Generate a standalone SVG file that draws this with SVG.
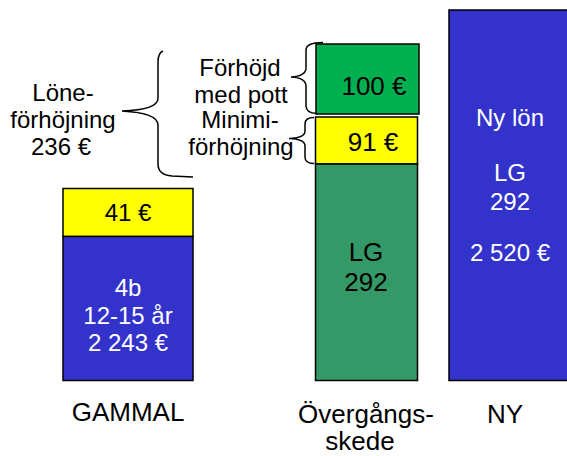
<svg xmlns="http://www.w3.org/2000/svg" width="567" height="456" viewBox="0 0 567 456">
  <style>
    .bar { stroke: #000; stroke-width: 1.5; }
    .blue { fill: #3333CC; }
    .yellow { fill: #FFFF00; }
    .green { fill: #00B050; }
    .sea { fill: #339966; }
    text { font-family: "Liberation Sans", Arial, sans-serif; text-anchor: middle; }
    .dark { fill: #000; }
    .light { fill: #fff; }
    .s24 { font-size: 24px; }
    .s26 { font-size: 26px; }
    .brace { fill: none; stroke: #000; stroke-width: 1.5; }
  </style>

  <rect width="567" height="456" fill="#fff"/>

  <!-- GAMMAL column -->
  <g id="gammal-raise">
    <rect class="bar yellow" x="63" y="188.5" width="130" height="48"/>
    <text class="dark s24" x="128" y="221">41 €</text>
  </g>
  <g id="gammal-base">
    <rect class="bar blue" x="63" y="236.5" width="130" height="144"/>
    <text class="light s24" x="128" y="296">4b</text>
    <text class="light s24" x="128" y="324">12-15 år</text>
    <text class="light s24" x="128" y="351">2 243 €</text>
  </g>

  <!-- Transition column -->
  <g id="pott">
    <rect class="bar green" x="316" y="44" width="103" height="70"/>
    <text class="dark s26" x="374" y="95">100 €</text>
  </g>
  <g id="minimi">
    <rect class="bar yellow" x="315.5" y="117" width="102" height="47"/>
    <text class="dark s26" x="373" y="151">91 €</text>
  </g>
  <g id="lg-base">
    <rect class="bar sea" x="315.5" y="164" width="102" height="216.5"/>
    <text class="dark s26" x="366" y="261">LG</text>
    <text class="dark s26" x="366" y="291">292</text>
  </g>

  <!-- NY column -->
  <g id="ny">
    <rect class="bar blue" x="449" y="10" width="125" height="370.5" stroke-width="2"/>
    <text class="light s24" x="510" y="126">Ny lön</text>
    <text class="light s24" x="510" y="181">LG</text>
    <text class="light s24" x="510" y="210">292</text>
    <text class="light s24" x="510" y="261">2 520 €</text>
  </g>

  <!-- Side labels -->
  <g id="lone-label">
    <text class="dark s24" x="63" y="101">Löne-</text>
    <text class="dark s24" x="63" y="128">förhöjning</text>
    <text class="dark s24" x="61" y="155">236 €</text>
  </g>
  <g id="pott-label">
    <text class="dark s24" x="240" y="76">Förhöjd</text>
    <text class="dark s24" x="241" y="103">med pott</text>
  </g>
  <g id="minimi-label">
    <text class="dark s24" x="240" y="128">Minimi-</text>
    <text class="dark s24" x="241" y="155">förhöjning</text>
  </g>

  <!-- Column captions -->
  <g id="captions">
    <text class="dark s26" x="128" y="421">GAMMAL</text>
    <text class="dark s26"><tspan x="366" y="423">Övergångs-</tspan><tspan x="360" y="450">skede</tspan></text>
    <text class="dark s26" x="505" y="423">NY</text>
  </g>

  <!-- Braces -->
  <g id="connectors">
    <path class="brace" d="M163,51 Q158,53 158,62 L158,98 Q158,110 122,111 Q158,113 158,125 L158,164 Q158,175 172,176 L193,177"/>
    <path class="brace" d="M323,42.5 Q306,42.5 306,50 L306,68 Q306,76 291,77 Q306,78 306,86 L306,106 Q306,113 317,113.5"/>
    <path class="brace" d="M314,117.5 Q305,117.5 305,124 L305,131 Q305,138 289,138.5 Q305,139 305,146 L305,157 Q305,163.5 314,163.5"/>
  </g>
</svg>
